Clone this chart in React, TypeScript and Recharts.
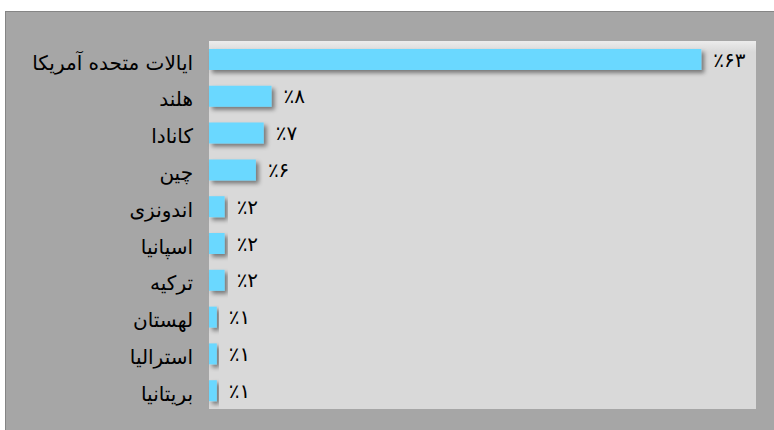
import { Bar, BarChart, CartesianGrid, LabelList, XAxis, YAxis } from 'recharts';

const countries = [
  'ایالات متحده آمریکا',
  'هلند',
  'کانادا',
  'چین',
  'اندونزی',
  'اسپانیا',
  'ترکیه',
  'لهستان',
  'استرالیا',
  'بریتانیا',
];
const shares = [63, 8, 7, 6, 2, 2, 2, 1, 1, 1];
const shareLabels = ['٪۶۳', '٪۸', '٪۷', '٪۶', '٪۲', '٪۲', '٪۲', '٪۱', '٪۱', '٪۱'];

const data = countries.map((name, i) => ({ name, value: shares[i], label: shareLabels[i] }));

const font = '"DejaVu Sans", "Noto Sans", serif';

export default function App() {
  return (
    <div style={{ position: 'fixed', left: 0, top: 0, width: 774, height: 430, overflow: 'hidden', background: '#fff' }}>
      <div
        style={{
          position: 'absolute',
          left: 5,
          top: 11,
          width: 772,
          height: 422,
          background: '#a6a6a6',
          borderLeft: '1px solid #858585',
          borderTop: '1px solid #858585',
        }}
      >
        <BarChart
          width={771}
          height={421}
          data={data}
          layout="vertical"
          margin={{ top: 29, right: 21, bottom: 24, left: 0 }}
        >
          <defs>
            <linearGradient id="plotBg" x1="0" y1="0" x2="0" y2="1">
              <stop offset="0" stopColor="#ececec" />
              <stop offset="0.03" stopColor="#d9d9d9" />
              <stop offset="1" stopColor="#d9d9d9" />
            </linearGradient>
            <filter id="barShadow" x="-10%" y="-30%" width="130%" height="180%">
              <feDropShadow dx="3" dy="3" stdDeviation="2" floodColor="#000" floodOpacity="0.45" />
            </filter>
          </defs>
          <CartesianGrid fill="url(#plotBg)" horizontal={false} vertical={false} />
          <XAxis type="number" domain={[0, 70]} hide />
          <YAxis
            type="category"
            dataKey="name"
            width={203}
            axisLine={false}
            tickLine={false}
            tickSize={0}
            tickMargin={16}
            interval={0}
            tick={{ fill: '#000', fontSize: 20, fontFamily: font, dy: 3 }}
          />
          <Bar dataKey="value" fill="#6ad8ff" barSize={21} isAnimationActive={false} filter="url(#barShadow)">
            <LabelList dataKey="label" position="right" offset={12} fill="#000" fontSize={20} fontFamily={font} />
          </Bar>
        </BarChart>
      </div>
    </div>
  );
}
